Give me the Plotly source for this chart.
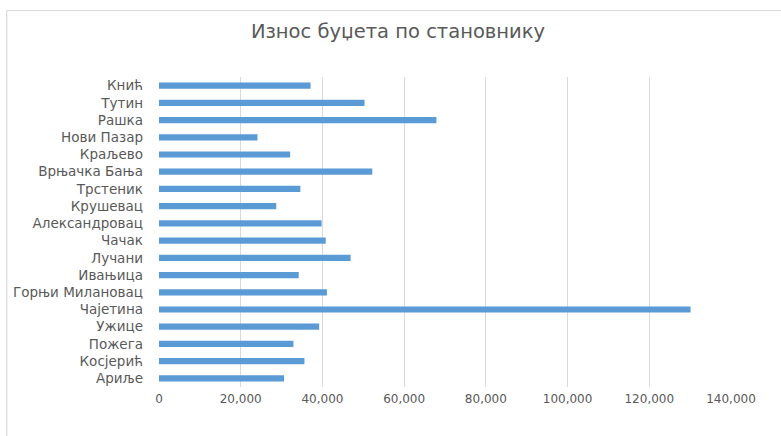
import plotly.graph_objects as go

# Municipalities, listed top to bottom
municipalities = [
    "Кнић", "Тутин", "Рашка", "Нови Пазар", "Краљево", "Врњачка Бања",
    "Трстеник", "Крушевац", "Александровац", "Чачак", "Лучани", "Ивањица",
    "Горњи Милановац", "Чајетина", "Ужице", "Пожега", "Косјерић", "Ариље",
]
# Budget per inhabitant
budget_per_capita = [
    37100, 50300, 67900, 24100, 32100, 52200,
    34600, 28700, 39800, 40800, 46900, 34200,
    41100, 130100, 39200, 32900, 35600, 30600,
]
x_ticks = [0, 20000, 40000, 60000, 80000, 100000, 120000, 140000]

W, H = 781, 436
L, R, T, B = 159, 50, 77, 49
pw, ph = W - L - R, H - T - B

def px_x(px):
    return (px - L) / pw

def px_y(py):
    return (H - B - py) / ph

text_color = "#595959"
grid_color = "#d9d9d9"
font = "DejaVu Sans"

fig = go.Figure(
    go.Bar(
        x=budget_per_capita,
        y=municipalities,
        orientation="h",
        marker=dict(color="#5b9bd5", line=dict(width=0)),
        hoverinfo="x+y",
    )
)

fig.update_layout(
    width=W,
    height=H,
    margin=dict(l=L, r=R, t=T, b=B, pad=0),
    paper_bgcolor="white",
    plot_bgcolor="white",
    bargap=0.64,
    showlegend=False,
    separators=".,",
    title=dict(
        text="Износ буџета по становнику",
        x=398 / W,
        xanchor="center",
        xref="container",
        y=1 - 31 / H,
        yanchor="middle",
        font=dict(family=font, size=19.5, color=text_color),
    ),
    font=dict(family=font, size=12, color=text_color),
    xaxis=dict(
        range=[0, 140000],
        tickvals=x_ticks,
        tickformat=",",
        showgrid=True,
        gridcolor=grid_color,
        gridwidth=1,
        zeroline=False,
        showline=False,
        ticks="",
        ticklabelstandoff=3,
        tickfont=dict(family=font, size=12, color=text_color),
        fixedrange=True,
    ),
    yaxis=dict(
        autorange="reversed",
        showgrid=False,
        zeroline=False,
        showline=False,
        ticks="",
        ticklabelstandoff=15,
        tickfont=dict(family=font, size=13.5, color=text_color),
        fixedrange=True,
    ),
    shapes=[
        # chart frame: top and left edges
        dict(type="line", xref="paper", yref="paper",
             x0=px_x(6.7), x1=px_x(800), y0=px_y(10.5), y1=px_y(10.5),
             line=dict(color=grid_color, width=1.2)),
        dict(type="line", xref="paper", yref="paper",
             x0=px_x(6.7), x1=px_x(6.7), y0=px_y(10.5), y1=px_y(450),
             line=dict(color=grid_color, width=1.2)),
    ],
)

fig.write_html("out.html")
